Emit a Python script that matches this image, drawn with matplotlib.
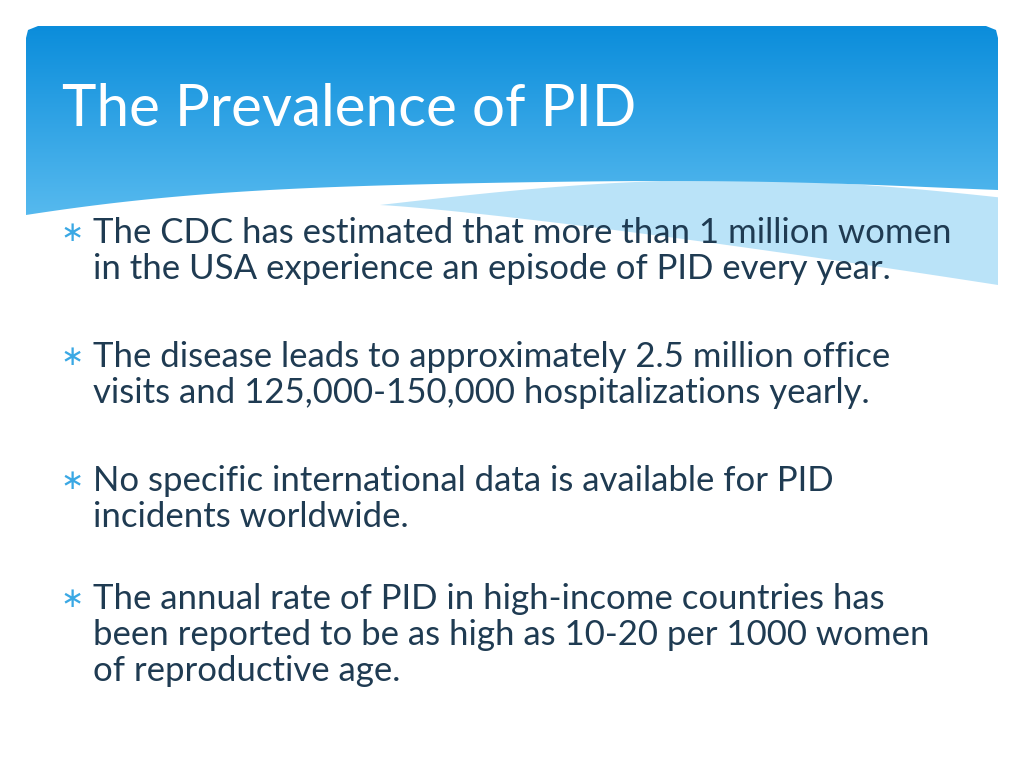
import numpy as np
import matplotlib
matplotlib.use("Agg")
import matplotlib.pyplot as plt
from matplotlib.patches import PathPatch
from matplotlib.path import Path

title = "The Prevalence of PID"
bullets = [
    ["The CDC has estimated that more than 1 million women",
     "in the USA experience an episode of PID every year."],
    ["The disease leads to approximately 2.5 million office",
     "visits and 125,000-150,000 hospitalizations yearly."],
    ["No specific international data is available for PID",
     "incidents worldwide."],
    ["The annual rate of PID in high-income countries has",
     "been reported to be as high as 10-20 per 1000 women",
     "of reproductive age."],
]
bullet_tops = [233, 357, 481, 599]

fig = plt.figure(figsize=(10.24, 7.68), dpi=100)
ax = fig.add_axes([0, 0, 1, 1])
ax.set_xlim(0, 1024); ax.set_ylim(768, 0); ax.axis("off")

# light wave band (right)
xs = np.linspace(380, 998, 60)
top = 205 - 25 * np.sin((xs - 380) / 618 * np.pi * 0.9)
bot = 205 + 80 * ((xs - 380) / 618) ** 1.2
verts = list(zip(xs, top)) + list(zip(xs[::-1], bot[::-1]))
ax.add_patch(PathPatch(Path(verts + [verts[0]]), facecolor="#a9dcf7", edgecolor="none", alpha=0.8))

# header with gradient
hx = np.linspace(26, 998, 100)
t = (hx - 26) / 972
hb = 215 - 40 * np.sin(t * np.pi) * (1 - t) - 25 * t + 10 * np.sin(t * 2 * np.pi) * t
hverts = [(26, 38), (28, 30), (38, 26), (986, 26), (996, 30), (998, 38)] + list(zip(hx[::-1], hb[::-1])) + [(26, 38)]
clip = PathPatch(Path(hverts), facecolor="none", edgecolor="none")
ax.add_patch(clip)
grad = np.linspace(0, 1, 256).reshape(-1, 1)
cmap = matplotlib.colors.LinearSegmentedColormap.from_list("g", ["#0b8ddb", "#5cbdf0"])
im = ax.imshow(grad, extent=[26, 998, 230, 26], cmap=cmap, aspect="auto", zorder=1)
im.set_clip_path(clip)

ax.text(62, 110, title, fontsize=42, color="white", family="Lato", va="center", zorder=3)

for lines, y0 in zip(bullets, bullet_tops):
    ax.text(72, y0, "∗", fontsize=20, color="#3aa8e4", va="center", ha="center", zorder=3)
    for i, ln in enumerate(lines):
        ax.text(93, y0 + i * 36, ln, fontsize=25, color="#1f3b52", family="Lato",
                va="center", zorder=3)

fig.savefig("out.png", dpi=100)
